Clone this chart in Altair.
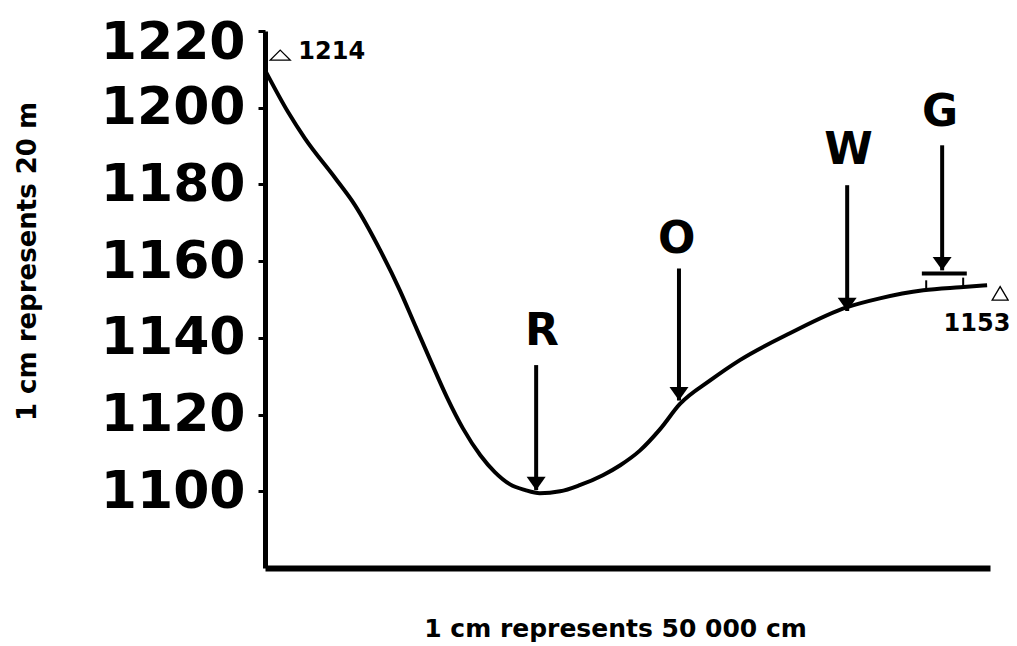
import altair as alt
import pandas as pd

# ---- profile data (distance index along section, elevation in m) ----
dist = [0, 3.2, 5.5, 9.7, 12.4, 15.9, 18.6, 20.7, 22.8, 25.1, 27.3, 29.7, 31.7,
        33.8, 35.9, 37.9, 40.7, 43.4, 46.6, 49.0, 51.7, 54.5, 57.2, 61.4, 65.5,
        72.4, 80.3, 84.8, 90.8, 95.9, 99.6]
elev = [1209.8, 1198.8, 1192.0, 1181.6, 1174.6, 1162.8, 1152.4, 1143.3, 1134.2,
        1124.5, 1116.4, 1109.4, 1105.0, 1101.8, 1100.3, 1099.5, 1100.0, 1101.6,
        1104.2, 1106.8, 1110.6, 1116.2, 1122.7, 1128.9, 1134.2, 1141.2, 1148.0,
        1150.3, 1152.4, 1153.2, 1153.7]

# ---- arrows R, O, W, G ----
marker_names = ["R", "O", "W", "G"]
marker_dist = [37.4, 57.1, 80.3, 93.4]
marker_tip = [1100.3, 1123.7, 1147.0, 1157.6]
marker_top = [1132.9, 1158.1, 1179.8, 1190.2]
label_dist = [38.2, 56.8, 80.5, 93.1]
label_elev = [1141.4, 1165.4, 1188.7, 1198.6]

# ---- bar under G and small ticks on the profile ----
bar_dist = [90.6]
bar_dist2 = [96.8]
bar_elev = [1156.8]
tick_dist = [91.2, 96.3]
tick_base = [1152.6, 1153.3]
tick_top = [1155.0, 1155.7]

# ---- spot heights ----
spot_text = ["1214", "1153"]
spot_tri_dist = [2.1, 101.4]
spot_tri_elev = [1213.7, 1151.6]
spot_text_dist = [4.6, 98.2]
spot_text_elev = [1214.4, 1143.5]

y_ticks = [1100, 1120, 1140, 1160, 1180, 1200, 1220]

FONT = "DejaVu Sans"

profile = pd.DataFrame({"d": dist, "e": elev})
arrows = pd.DataFrame({"name": marker_names, "d": marker_dist, "tip": marker_tip,
                       "top": marker_top, "ld": label_dist, "le": label_elev})
bar = pd.DataFrame({"d": bar_dist, "d2": bar_dist2, "e": bar_elev})
ticks = pd.DataFrame({"d": tick_dist, "e": tick_base, "e2": tick_top})
spots = pd.DataFrame({"t": spot_text, "td": spot_tri_dist, "te": spot_tri_elev,
                      "xd": spot_text_dist, "xe": spot_text_elev})

xs = alt.Scale(domain=[0, 100], nice=False, zero=False)
ys = alt.Scale(domain=[1080, 1220], nice=False, zero=False)

x_axis = alt.Axis(labels=False, ticks=False, grid=False, domainColor="black",
                  domainWidth=6, title="1 cm represents 50 000 cm",
                  titleFont=FONT, titleFontSize=25, titleFontWeight="bold",
                  titleColor="black", titleX=350, titleY=48)
y_axis = alt.Axis(values=y_ticks, format="d", grid=False, domainColor="black", domainWidth=5,
                  tickColor="black", tickWidth=3, tickSize=7, labelPadding=13,
                  labelFont=FONT, labelFontSize=52, labelFontWeight="bold",
                  labelColor="black", labelOverlap=False,
                  labelOffset={"condition": {"test": "datum.value == 1220", "value": 11}, "value": 0},
                  title="1 cm represents 20 m", titleFont=FONT, titleFontSize=26,
                  titleFontWeight="bold", titleColor="black", titleX=-225, titleY=230)

line = alt.Chart(profile).mark_line(color="black", strokeWidth=4, interpolate="monotone").encode(
    x=alt.X("d:Q", scale=xs, axis=x_axis),
    y=alt.Y("e:Q", scale=ys, axis=y_axis),
)

shafts = alt.Chart(arrows).mark_rule(color="black", strokeWidth=4).encode(
    x="d:Q", y="top:Q", y2="tip:Q")

heads = alt.Chart(arrows).mark_point(
    shape="M-1,-1.4L1,-1.4L0,0Z", size=361, filled=True, color="black", opacity=1
).encode(x="d:Q", y="tip:Q")

labels = alt.Chart(arrows).mark_text(
    font=FONT, fontSize=44, fontWeight="bold", color="black", align="center", baseline="middle"
).encode(x="ld:Q", y="le:Q", text="name:N")

gbar = alt.Chart(bar).mark_rule(color="black", strokeWidth=4).encode(
    x="d:Q", x2="d2:Q", y="e:Q")

small_ticks = alt.Chart(ticks).mark_rule(color="black", strokeWidth=2).encode(
    x="d:Q", y="e:Q", y2="e2:Q")

tri_start = alt.Chart(spots).transform_filter(alt.datum.t == "1214").mark_point(
    shape="M-1,0.5L1,0.5L0,-0.5Z", size=400, filled=False, color="black",
    strokeWidth=1.3, opacity=1
).encode(x="td:Q", y="te:Q")

tri_end = alt.Chart(spots).transform_filter(alt.datum.t == "1153").mark_point(
    shape="M-1,0.85L1,0.85L0,-0.85Z", size=256, filled=False, color="black",
    strokeWidth=1.3, opacity=1
).encode(x="td:Q", y="te:Q")

spot_left = alt.Chart(spots).transform_filter(alt.datum.t == "1214").mark_text(
    font=FONT, fontSize=24, fontWeight="bold", color="black", align="left", baseline="middle"
).encode(x="xd:Q", y="xe:Q", text="t:N")

spot_center = alt.Chart(spots).transform_filter(alt.datum.t == "1153").mark_text(
    font=FONT, fontSize=24, fontWeight="bold", color="black", align="center", baseline="middle"
).encode(x="xd:Q", y="xe:Q", text="t:N")

chart = alt.layer(line, shafts, heads, labels, gbar, small_ticks, tri_start, tri_end,
                  spot_left, spot_center).properties(
    width=725, height=537,
    autosize=alt.AutoSizeParams(type="none"),
    padding={"left": 257, "top": 23, "right": 19, "bottom": 75},
    background="white",
).configure_view(stroke=None)

chart.save("out.html", embed_options={"renderer": "svg", "actions": False})
